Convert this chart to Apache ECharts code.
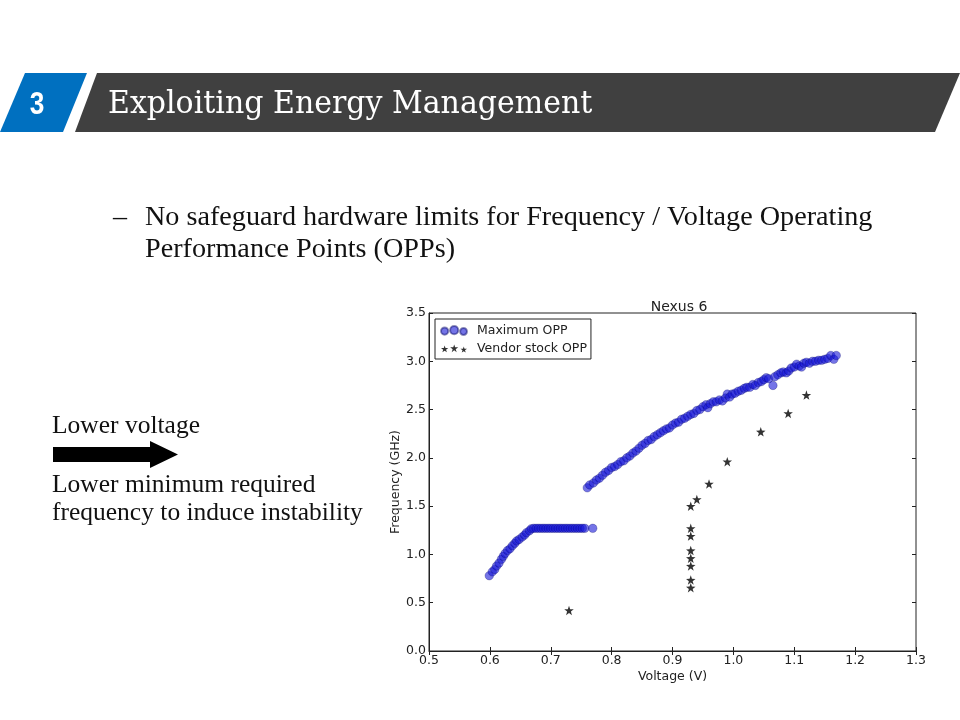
<!DOCTYPE html>
<html><head><meta charset="utf-8">
<script src="https://cdn.jsdelivr.net/npm/echarts@6/dist/echarts.min.js"></script>
<style>html,body{margin:0;padding:0;background:#fff}#c{width:960px;height:720px}</style>
</head><body><div id="c"></div>
<script>
// ---- data ----
const maxVolt = [
  0.599,0.604,0.608,0.611,0.615,0.619,0.622,0.625,0.629,0.633,0.637,0.641,0.644,0.648,0.653,0.657,0.660,0.665,0.668,
  0.672,0.676,0.680,0.684,0.688,0.692,0.696,0.700,0.704,0.708,0.712,0.716,0.720,0.724,0.728,0.732,0.736,0.740,0.744,0.748,0.752,0.756,
  0.769,
  0.760,0.764,0.770,0.775,0.780,0.785,0.790,0.795,0.800,0.805,0.810,0.815,0.820,0.825,0.830,0.835,0.840,0.845,0.850,0.855,
  0.860,0.865,0.870,0.875,0.880,0.885,0.890,0.895,0.900,0.905,0.910,0.915,0.920,0.925,0.930,0.935,0.940,0.945,0.950,0.955,
  0.958,0.962,0.967,0.972,0.977,0.982,0.987,0.990,0.994,0.998,1.003,1.008,1.013,1.018,1.022,1.027,1.032,1.036,1.041,1.046,
  1.050,1.054,1.058,1.065,1.068,1.073,1.078,1.082,1.087,1.091,1.095,1.100,1.104,1.108,1.112,1.116,1.120,1.125,1.130,1.135,
  1.140,1.145,1.150,1.155,1.160,1.165,1.169
];
const maxFreq = [
  0.78,0.82,0.845,0.88,0.91,0.95,0.98,1.01,1.04,1.06,1.09,1.115,1.14,1.155,1.18,1.20,1.225,1.245,1.265,
  1.27,1.27,1.27,1.27,1.27,1.27,1.27,1.27,1.27,1.27,1.27,1.27,1.27,1.27,1.27,1.27,1.27,1.27,1.27,1.27,1.27,1.27,
  1.27,
  1.69,1.72,1.74,1.77,1.79,1.82,1.85,1.87,1.90,1.91,1.93,1.96,1.97,2.00,2.02,2.05,2.07,2.10,2.13,2.15,
  2.18,2.19,2.22,2.24,2.26,2.28,2.30,2.31,2.34,2.36,2.37,2.40,2.41,2.43,2.45,2.46,2.49,2.50,2.53,2.55,
  2.52,2.56,2.58,2.58,2.60,2.59,2.62,2.66,2.63,2.66,2.67,2.69,2.70,2.72,2.73,2.73,2.76,2.75,2.78,2.79,
  2.81,2.83,2.82,2.75,2.84,2.86,2.88,2.89,2.88,2.90,2.93,2.94,2.97,2.95,2.94,2.98,2.99,2.98,3.00,3.00,
  3.01,3.01,3.02,3.03,3.06,3.02,3.06
];
const stockVolt = [0.73,0.93,0.93,0.93,0.93,0.93,0.93,0.93,0.93,0.94,0.96,0.99,1.045,1.09,1.12];
const stockFreq = [0.42,0.655,0.735,0.88,0.96,1.04,1.19,1.27,1.50,1.57,1.73,1.96,2.27,2.46,2.65];
const xTicks = [0.5,0.6,0.7,0.8,0.9,1.0,1.1,1.2,1.3];
const yTicks = [0.0,0.5,1.0,1.5,2.0,2.5,3.0,3.5];
const seriesNames = ['Maximum OPP','Vendor stock OPP'];

const starPath = 'path://M5,0L6.18,3.38L9.76,3.46L6.9,5.62L7.94,9.05L5,7L2.06,9.05L3.1,5.62L0.24,3.46L3.82,3.38Z';
const threeCircles = 'path://M0,6a4,4 0 1,0 8,0a4,4 0 1,0 -8,0ZM10,5a4.5,4.5 0 1,0 9,0a4.5,4.5 0 1,0 -9,0ZM21,6.5a3.8,3.8 0 1,0 7.6,0a3.8,3.8 0 1,0 -7.6,0Z';
const threeStars = 'path://M4,1L4.9,3.7L7.8,3.8L5.5,5.5L6.4,8.2L4,6.6L1.6,8.2L2.5,5.5L0.2,3.8L3.1,3.7ZM14,0L15,3L18.2,3L15.6,4.9L16.6,8L14,6.1L11.4,8L12.4,4.9L9.8,3L13,3ZM24,2L24.8,4.4L27.4,4.5L25.3,6L26.1,8.4L24,7L21.9,8.4L22.7,6L20.6,4.5L23.2,4.4Z';

const maxData = maxVolt.map((v,i)=>[v,maxFreq[i]]);
const stockData = stockVolt.map((v,i)=>[v,stockFreq[i]]);

const chart = echarts.init(document.getElementById('c'), null, {renderer:'canvas'});
const axisFont = {fontFamily:'DejaVu Sans', fontSize:12.5, color:'#222'};
const fmt = v => Number(v).toFixed(1);

chart.setOption({
  backgroundColor:'#fff',
  animation:false,
  title:{
    text:'Nexus 6', left:674, top:295, textAlign:'center',
    textStyle:{fontFamily:'DejaVu Sans', fontSize:14, fontWeight:'normal', color:'#222'}
  },
  legend:{
    orient:'vertical', left:435, top:319,
    backgroundColor:'#fff', borderColor:'#222', borderWidth:1,
    padding:[5,4,4,5], itemGap:5, itemWidth:26, itemHeight:9,
    textStyle:{fontFamily:'DejaVu Sans', fontSize:12.5, color:'#222', padding:[0,0,0,5]},
    data:[{name:seriesNames[0], icon:threeCircles},{name:seriesNames[1], icon:threeStars}]
  },
  grid:{left:429, right:44, top:313, bottom:69, show:true, borderColor:'#222', borderWidth:1, containLabel:false},
  xAxis:[{
    type:'value', min:0.5, max:1.3, interval:0.1,
    name:'Voltage (V)', nameLocation:'middle', nameGap:19, nameMoveOverlap:false,
    nameTextStyle:{fontFamily:'DejaVu Sans', fontSize:12.5, color:'#222'},
    axisLine:{show:true, lineStyle:{color:'#222'}},
    axisTick:{show:true, inside:true, length:4, lineStyle:{color:'#222'}},
    axisLabel:Object.assign({formatter:fmt, margin:3}, axisFont),
    splitLine:{show:false}
  },{
    type:'value', position:'top', min:0.5, max:1.3, interval:0.1,
    axisLine:{show:false}, axisTick:{show:true, inside:true, length:4, lineStyle:{color:'#222'}},
    axisLabel:{show:false}, splitLine:{show:false}
  }],
  yAxis:[{
    type:'value', min:0, max:3.5, interval:0.5,
    name:'Frequency (GHz)', nameLocation:'middle', nameGap:27, nameRotate:90, nameMoveOverlap:false,
    nameTextStyle:{fontFamily:'DejaVu Sans', fontSize:12.5, color:'#222'},
    axisLine:{show:true, lineStyle:{color:'#222'}},
    axisTick:{show:true, inside:true, length:4, lineStyle:{color:'#222'}},
    axisLabel:Object.assign({formatter:fmt, margin:3}, axisFont),
    splitLine:{show:false}
  },{
    type:'value', position:'right', min:0, max:3.5, interval:0.5,
    axisLine:{show:false}, axisTick:{show:true, inside:true, length:4, lineStyle:{color:'#222'}},
    axisLabel:{show:false}, splitLine:{show:false}
  }],
  series:[{
    name:seriesNames[0], type:'scatter', data:maxData, symbol:'circle', symbolSize:8.5,
    itemStyle:{color:'rgba(20,20,215,0.74)', borderColor:'rgba(0,0,90,0.55)', borderWidth:0.6}
  },{
    name:seriesNames[1], type:'scatter', data:stockData, symbol:starPath, symbolSize:9.5,
    itemStyle:{color:'#000'}
  }],
  graphic:[
    {type:'polygon', shape:{points:[[25,73],[87,73],[63,132],[0,132]]}, style:{fill:'#0070c0'}},
    {type:'text', x:37, y:105, scaleX:0.82, style:{text:'3', fill:'#fff', font:'bold 32px "Liberation Sans"', align:'center', verticalAlign:'middle'}},
    {type:'polygon', shape:{points:[[97,73],[960,73],[935,132],[75,132]]}, style:{fill:'#404040'}},
    {type:'text', x:108, y:105, scaleY:1.08, style:{text:'Exploiting Energy Management', fill:'#fff', font:'30px "DejaVu Serif"', verticalAlign:'middle'}},
    {type:'text', left:113, top:204, style:{text:'–', fill:'#111', font:'28px "Liberation Serif"'}},
    {type:'text', left:145, top:204, style:{text:'No safeguard hardware limits for Frequency / Voltage Operating', fill:'#111', font:'28.2px "Liberation Serif"'}},
    {type:'text', left:145, top:236, style:{text:'Performance Points (OPPs)', fill:'#111', font:'28.2px "Liberation Serif"'}},
    {type:'text', left:52, top:413, style:{text:'Lower voltage', fill:'#111', font:'25.5px "Liberation Serif"'}},
    {type:'polygon', shape:{points:[[53,447],[150,447],[150,441],[178,454.5],[150,468],[150,462],[53,462]]}, style:{fill:'#000'}},
    {type:'text', left:52, top:472, style:{text:'Lower minimum required', fill:'#111', font:'25.5px "Liberation Serif"'}},
    {type:'text', left:52, top:500, style:{text:'frequency to induce instability', fill:'#111', font:'25.5px "Liberation Serif"'}}
  ]
});
</script>
</body></html>
